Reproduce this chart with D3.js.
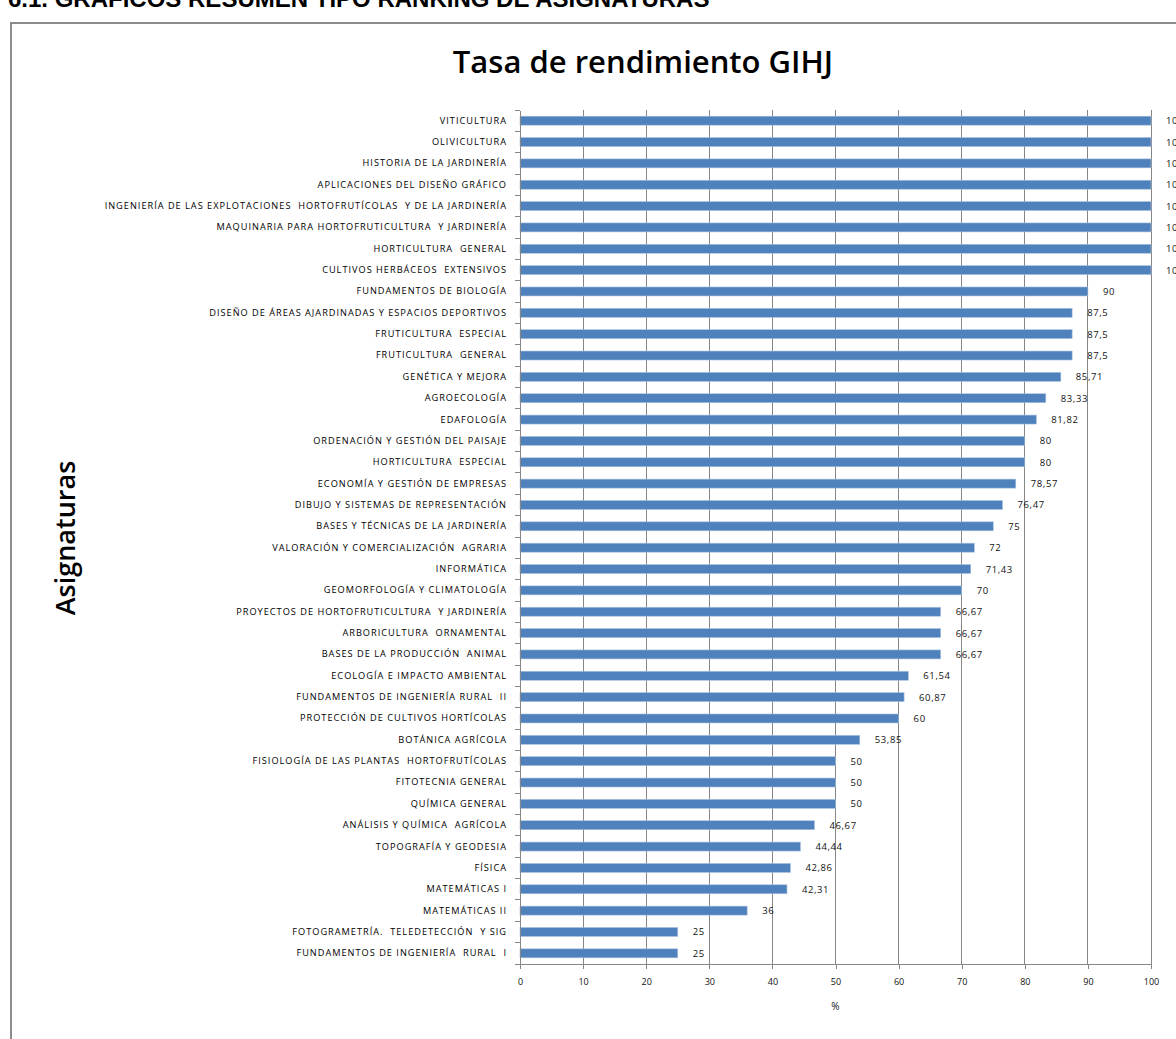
<!DOCTYPE html>
<html><head><meta charset="utf-8">
<script src="https://cdn.jsdelivr.net/npm/d3@7"></script>
<style>
html,body{margin:0;padding:0;background:#fff;overflow:hidden;}
svg{display:block;}
</style></head>
<body>
<svg id="c" width="1176" height="1039"></svg>
<script>
const categories = [
"VITICULTURA","OLIVICULTURA","HISTORIA DE LA JARDINERÍA","APLICACIONES DEL DISEÑO GRÁFICO",
"INGENIERÍA DE LAS EXPLOTACIONES  HORTOFRUTÍCOLAS  Y DE LA JARDINERÍA",
"MAQUINARIA PARA HORTOFRUTICULTURA  Y JARDINERÍA","HORTICULTURA  GENERAL",
"CULTIVOS HERBÁCEOS  EXTENSIVOS","FUNDAMENTOS DE BIOLOGÍA",
"DISEÑO DE ÁREAS AJARDINADAS Y ESPACIOS DEPORTIVOS","FRUTICULTURA  ESPECIAL",
"FRUTICULTURA  GENERAL","GENÉTICA Y MEJORA","AGROECOLOGÍA","EDAFOLOGÍA",
"ORDENACIÓN Y GESTIÓN DEL PAISAJE","HORTICULTURA  ESPECIAL","ECONOMÍA Y GESTIÓN DE EMPRESAS",
"DIBUJO Y SISTEMAS DE REPRESENTACIÓN","BASES Y TÉCNICAS DE LA JARDINERÍA",
"VALORACIÓN Y COMERCIALIZACIÓN  AGRARIA","INFORMÁTICA","GEOMORFOLOGÍA Y CLIMATOLOGÍA",
"PROYECTOS DE HORTOFRUTICULTURA  Y JARDINERÍA","ARBORICULTURA  ORNAMENTAL",
"BASES DE LA PRODUCCIÓN  ANIMAL","ECOLOGÍA E IMPACTO AMBIENTAL",
"FUNDAMENTOS DE INGENIERÍA RURAL  II","PROTECCIÓN DE CULTIVOS HORTÍCOLAS","BOTÁNICA AGRÍCOLA",
"FISIOLOGÍA DE LAS PLANTAS  HORTOFRUTÍCOLAS","FITOTECNIA GENERAL","QUÍMICA GENERAL",
"ANÁLISIS Y QUÍMICA  AGRÍCOLA","TOPOGRAFÍA Y GEODESIA","FÍSICA","MATEMÁTICAS I","MATEMÁTICAS II",
"FOTOGRAMETRÍA.  TELEDETECCIÓN  Y SIG","FUNDAMENTOS DE INGENIERÍA  RURAL  I"
];
const values = [100,100,100,100,100,100,100,100,90,87.5,87.5,87.5,85.71,83.33,81.82,80,80,78.57,76.47,75,72,71.43,70,66.67,66.67,66.67,61.54,60.87,60,53.85,50,50,50,46.67,44.44,42.86,42.31,36,25,25];
const xTicks = [0,10,20,30,40,50,60,70,80,90,100];
const title = "Tasa de rendimiento GIHJ";
const yTitle = "Asignaturas";
const xTitle = "%";
const header = "6.1.  GRÁFICOS RESUMEN TIPO RANKING DE ASIGNATURAS";

const svg = d3.select("#c");
const L = 520, R = 1151, T = 110, B = 964;
const x = d3.scaleLinear().domain([0,100]).range([L,R]);
const y = d3.scaleBand().domain(categories).range([T,B]).paddingInner(0.58).paddingOuter(0.29);
const grid = "#868686";
const fmt = v => String(v).replace(".", ",");

// header (cut off)
svg.append("text").attr("x",8).attr("y",7).attr("font-family","Liberation Sans, Arial, sans-serif")
  .attr("font-weight","bold").attr("font-size",24).attr("fill","#000").text(header);
// frame
svg.append("rect").attr("x",11).attr("y",23).attr("width",1200).attr("height",1100)
  .attr("fill","none").attr("stroke","#8c8c8c").attr("stroke-width",2);

// title
svg.append("text").attr("x",643).attr("y",73).attr("text-anchor","middle")
  .attr("font-family","Open Sans, sans-serif").attr("font-weight",600).attr("font-size",31)
  .attr("fill","#000").text(title);
// y title
svg.append("text").attr("transform","translate(75,538) rotate(-90)").attr("text-anchor","middle")
  .attr("font-family","Open Sans, sans-serif").attr("font-weight",600).attr("font-size",27)
  .attr("fill","#000").text(yTitle);

// gridlines
svg.append("g").selectAll("line").data(xTicks.filter(d=>d>0)).join("line")
  .attr("x1",d=>x(d)).attr("x2",d=>x(d)).attr("y1",T).attr("y2",B)
  .attr("stroke",grid).attr("stroke-width",1).attr("shape-rendering","crispEdges");

// bars
svg.append("g").selectAll("rect").data(categories).join("rect")
  .attr("x",x(0)).attr("y",(d)=>y(d))
  .attr("width",(d,i)=>x(values[i])-x(0)).attr("height",y.bandwidth())
  .attr("fill","#4f81bd").attr("stroke","#a7c0de").attr("stroke-width",0.6);

// value labels
svg.append("g").selectAll("text").data(categories).join("text")
  .attr("x",(d,i)=>x(values[i])+15).attr("y",d=>y(d)+y.bandwidth()/2+3.5)
  .attr("font-family","Open Sans, sans-serif").attr("font-size",9.5).attr("letter-spacing",0.6)
  .attr("fill","#111").text((d,i)=>fmt(values[i]));

// x axis
const xAxis = d3.axisBottom(x).tickValues(xTicks).tickSize(5).tickPadding(10).tickFormat(d=>d);
const gx = svg.append("g").attr("transform",`translate(0,${B})`).call(xAxis);
gx.select(".domain").attr("stroke",grid).attr("shape-rendering","crispEdges");
gx.selectAll(".tick line").attr("stroke",grid).attr("shape-rendering","crispEdges");
gx.selectAll("text").attr("font-family","Open Sans, sans-serif").attr("font-size",9).attr("fill","#111");
svg.append("text").attr("x",x(50)).attr("y",1010).attr("text-anchor","middle")
  .attr("font-family","Open Sans, sans-serif").attr("font-size",10).attr("fill","#111").text(xTitle);

// y axis line and ticks at band boundaries
const yAxis = d3.axisLeft(y).tickSize(0).tickPadding(13);
const gy = svg.append("g").attr("transform",`translate(${L},0)`).call(yAxis);
gy.select(".domain").attr("stroke",grid).attr("shape-rendering","crispEdges");
gy.selectAll("text").attr("font-family","Open Sans, sans-serif").attr("font-size",9.2).attr("font-weight",500)
  .attr("letter-spacing",1.0).attr("fill","#000").style("white-space","pre");
const bounds = categories.map(c=>y(c)-y.step()*y.paddingInner()/2).concat([B]);
svg.append("g").selectAll("line").data(bounds).join("line")
  .attr("x1",L-5).attr("x2",L).attr("y1",d=>d).attr("y2",d=>d)
  .attr("stroke",grid).attr("shape-rendering","crispEdges");
</script>
</body></html>
